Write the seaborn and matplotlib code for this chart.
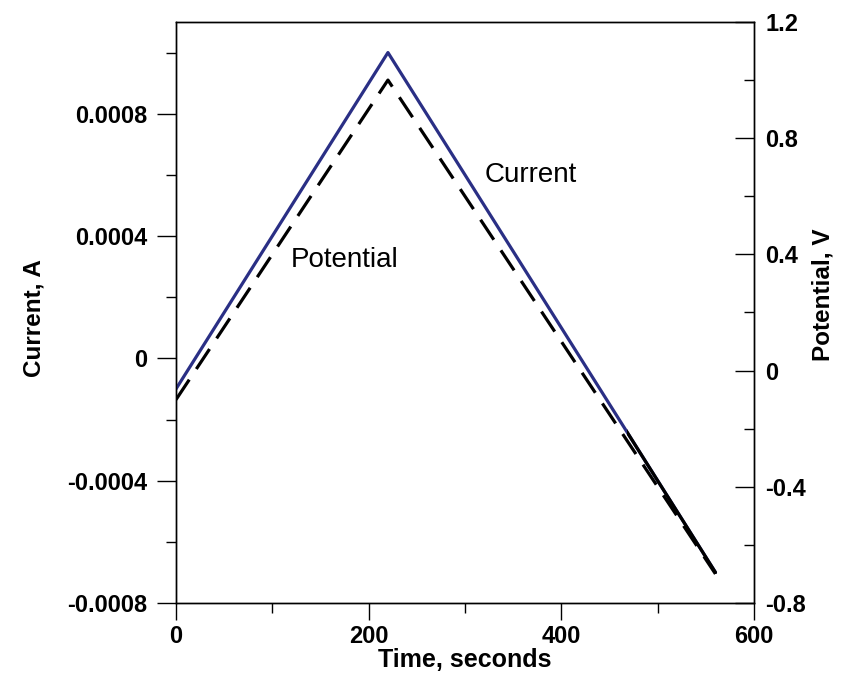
import matplotlib
matplotlib.use("Agg")
import matplotlib.pyplot as plt
from matplotlib.patches import Rectangle
from matplotlib.ticker import MultipleLocator, FixedFormatter, FixedLocator
import seaborn as sns
import pandas as pd

# Triangular potential sweep and the resulting current through a 1 kOhm resistor
time_s = [0, 220, 560]
current_a = [-0.0001, 0.001, -0.0007]
potential_v = [-0.1, 1.0, -0.7]

x_ticks = [0, 200, 400, 600]
current_ticks = [-0.0008, -0.0004, 0, 0.0004, 0.0008]
current_tick_labels = ["-0.0008", "-0.0004", "0", "0.0004", "0.0008"]
potential_ticks = [-0.8, -0.4, 0, 0.4, 0.8, 1.2]
potential_tick_labels = ["-0.8", "-0.4", "0", "0.4", "0.8", "1.2"]

sns.set_style("white")
plt.rcParams["font.family"] = ["Liberation Sans", "DejaVu Sans"]
plt.rcParams.update({
    "text.color": "black",
    "axes.labelcolor": "black",
    "xtick.color": "black",
    "ytick.color": "black",
    "axes.edgecolor": "black",
})

df = pd.DataFrame({"time": time_s, "current": current_a, "potential": potential_v})

fig = plt.figure(figsize=(8.62, 6.93), dpi=100)
ax = fig.add_axes([0.2042, 0.1299, 0.6705, 0.8384])
ax2 = ax.twinx()

navy = "#2a2f85"
sns.lineplot(data=df, x="time", y="current", ax=ax, color=navy, linewidth=2.3, zorder=3)
# lower tail of the current trace is drawn in black
sns.lineplot(data=df, x="time", y="current", ax=ax, color="black", linewidth=2.3, zorder=4)
ax.lines[-1].set_clip_path(Rectangle((468, -1), 1000, 2, transform=ax.transData))

sns.lineplot(data=df, x="time", y="potential", ax=ax2, color="black", linewidth=2.3,
             zorder=5)
ax2.lines[-1].set_dashes((7.5, 4.0))

ax.set_xlim(0, 600)
ax.set_ylim(-0.0008, 0.0011)
ax2.set_ylim(-0.8, 1.2)

ax.xaxis.set_major_locator(FixedLocator(x_ticks))
ax.xaxis.set_minor_locator(MultipleLocator(100))
ax.yaxis.set_major_locator(FixedLocator(current_ticks))
ax.yaxis.set_major_formatter(FixedFormatter(current_tick_labels))
ax.yaxis.set_minor_locator(MultipleLocator(0.0002))
ax2.yaxis.set_major_locator(FixedLocator(potential_ticks))
ax2.yaxis.set_major_formatter(FixedFormatter(potential_tick_labels))
ax2.yaxis.set_minor_locator(MultipleLocator(0.2))

ax.tick_params(axis="y", which="major", direction="out", length=13.5, width=1,
               pad=7, labelsize=17, left=True, right=False)
ax.tick_params(axis="y", which="minor", direction="out", length=7, width=1,
               left=True, right=False)
ax.tick_params(axis="x", which="major", direction="out", length=12, width=1,
               pad=4, labelsize=17, bottom=True, top=False)
ax.tick_params(axis="x", which="minor", direction="out", length=7, width=1,
               bottom=True, top=False)
ax2.tick_params(axis="y", which="major", direction="in", length=13.5, width=1,
                pad=8, labelsize=17, right=True, left=False)
ax2.tick_params(axis="y", which="minor", direction="in", length=7, width=1,
                right=True, left=False)

for lab in ax.get_xticklabels() + ax.get_yticklabels() + ax2.get_yticklabels():
    lab.set_fontweight("bold")

for a in (ax, ax2):
    for sp in a.spines.values():
        sp.set_color("black")
        sp.set_linewidth(1.0)

ax.set_xlabel("Time, seconds", fontsize=18, fontweight="bold", labelpad=0)
ax.set_ylabel("Current, A", fontsize=17.5, fontweight="bold")
ax2.set_ylabel("Potential, V", fontsize=17.5, fontweight="bold")
ax.yaxis.set_label_coords(-0.226, 0.49)
ax2.yaxis.set_label_coords(1.10, 0.53)

ax.text(320, 0.0006, "Current", fontsize=20, ha="left", va="center")
ax.text(119, 0.00032, "Potential", fontsize=20, ha="left", va="center")

ax2.set_zorder(ax.get_zorder() + 1)
ax2.patch.set_visible(False)

fig.savefig("out.png", dpi=100, facecolor="white")
